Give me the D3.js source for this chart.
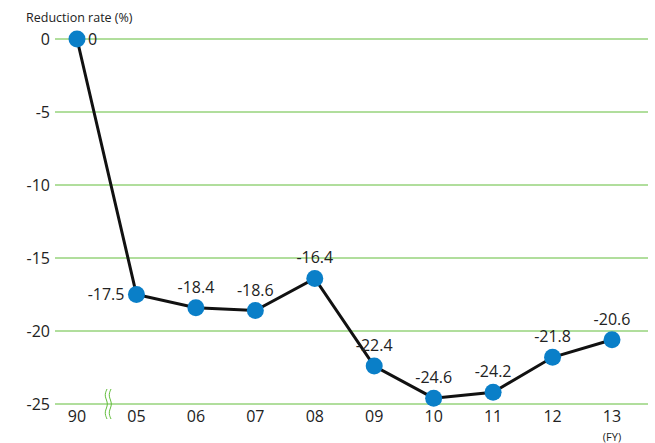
<!DOCTYPE html>
<html>
<head>
<meta charset="UTF-8">
<script src="https://d3js.org/d3.v7.min.js"></script>
<style>
  body { margin: 0; background: #fff; }
  text { font-family: "Open Sans", "Noto Sans", sans-serif; fill: #222; }
</style>
</head>
<body>
<svg width="655" height="443"></svg>
<script>
const years = ["90", "05", "06", "07", "08", "09", "10", "11", "12", "13"];
const rates = [0, -17.5, -18.4, -18.6, -16.4, -22.4, -24.6, -24.2, -21.8, -20.6];
const yTicks = [0, -5, -10, -15, -20, -25];

const svg = d3.select("svg");
const x = d3.scalePoint().domain(years).range([77, 612]);
const y = d3.scaleLinear().domain([-25, 0]).range([404, 39]);

// grid lines
svg.selectAll(".grid").data(yTicks).enter().append("line")
  .attr("x1", 55).attr("x2", 648)
  .attr("y1", d => y(d)).attr("y2", d => y(d))
  .attr("stroke", "#62bd3a").attr("stroke-width", 1);

// y labels
svg.selectAll(".ylab").data(yTicks).enter().append("text")
  .attr("x", 50).attr("y", d => y(d)).attr("dy", "0.35em")
  .attr("text-anchor", "end").attr("font-size", 16)
  .text(d => d === 0 ? "0" : "-" + Math.abs(d));

// x labels
svg.selectAll(".xlab").data(years).enter().append("text")
  .attr("x", d => x(d)).attr("y", 422)
  .attr("text-anchor", "middle").attr("font-size", 16)
  .text(d => d);

svg.append("text").attr("x", x("13")).attr("y", 441)
  .attr("text-anchor", "middle").attr("font-size", 11).text("(FY)");

svg.append("text").attr("x", 26).attr("y", 22)
  .attr("font-size", 12.5).text("Reduction rate (%)");

// axis break mark
const bx = 107;
const wave = d3.line().curve(d3.curveBasis);
[0, 4].forEach(off => {
  svg.append("path")
    .attr("d", wave([[bx + off, 389], [bx + off - 3, 396], [bx + off + 2, 404], [bx + off - 3, 412], [bx + off, 419]]))
    .attr("fill", "none").attr("stroke", "#62bd3a").attr("stroke-width", 1);
});

// line
const line = d3.line().x((d, i) => x(years[i])).y(d => y(d));
svg.append("path").datum(rates)
  .attr("d", line).attr("fill", "none")
  .attr("stroke", "#111").attr("stroke-width", 3);

svg.selectAll(".dot").data(rates).enter().append("circle")
  .attr("cx", (d, i) => x(years[i])).attr("cy", d => y(d))
  .attr("r", 8.5).attr("fill", "#0a7fc8");

// value labels
svg.selectAll(".vlab").data(rates).enter().append("text")
  .attr("x", (d, i) => i === 0 ? x(years[i]) + 11 : i === 1 ? x(years[i]) - 12 : x(years[i]))
  .attr("y", (d, i) => i < 2 ? y(d) : y(d) - 15)
  .attr("dy", (d, i) => i < 2 ? "0.35em" : 0)
  .attr("text-anchor", (d, i) => i === 0 ? "start" : i === 1 ? "end" : "middle")
  .attr("font-size", 16)
  .text(d => d === 0 ? "0" : d.toFixed(1));
</script>
</body>
</html>
